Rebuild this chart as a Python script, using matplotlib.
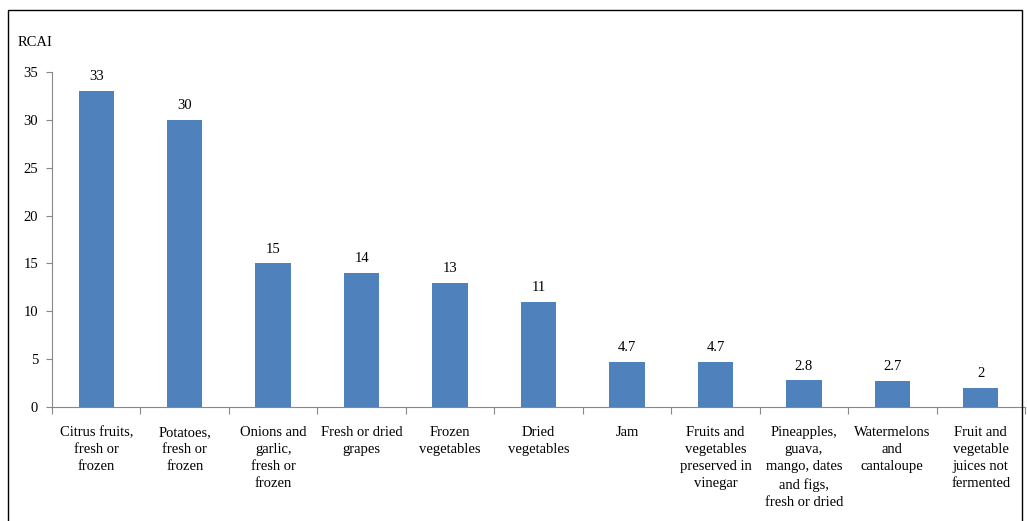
import numpy as np
import matplotlib.pyplot as plt
from matplotlib.patches import Rectangle

categories = ['Citrus fruits,\nfresh or\nfrozen', 'Potatoes,\nfresh or\nfrozen',
              'Onions and\ngarlic,\nfresh or\nfrozen', 'Fresh or dried\ngrapes',
              'Frozen\nvegetables', 'Dried\nvegetables', 'Jam',
              'Fruits and\nvegetables\npreserved in\nvinegar',
              'Pineapples,\nguava,\nmango, dates\nand figs,\nfresh or dried',
              'Watermelons\nand\ncantaloupe', 'Fruit and\nvegetable\njuices not\nfermented']
values = [33, 30, 15, 14, 13, 11, 4.7, 4.7, 2.8, 2.7, 2]
labels = ['33', '30', '15', '14', '13', '11', '4.7', '4.7', '2.8', '2.7', '2']

plt.rcParams['font.family'] = ['Liberation Serif', 'DejaVu Serif']
plt.rcParams['font.size'] = 10.5

fig = plt.figure(figsize=(10.27, 5.21), dpi=100)
fig.patches.append(Rectangle((8/1027, -0.05), (1022-8)/1027, 1.05 - 10/521,
                             transform=fig.transFigure, fill=False,
                             edgecolor='black', lw=1))
ax = fig.add_axes([52/1027, 1-407/521, (1025-52)/1027, (407-72)/521])

x = np.arange(len(values))
ax.bar(x, values, width=0.4, color='#4F81BD')
for xi, v, lab in zip(x, values, labels):
    ax.text(xi, v + 0.8, lab, ha='center', va='bottom', fontsize=10.5)

ax.set_xlim(-0.5, len(values) - 0.5)
ax.set_ylim(0, 35)
ax.set_yticks(range(0, 36, 5))
ax.set_xticks(np.arange(-0.5, len(values), 1))
ax.set_xticklabels([])
ax.set_xticks(x, minor=True)
ax.set_xticklabels(categories, minor=True, fontsize=10.5, linespacing=1.4, va='top')
ax.tick_params(axis='x', which='minor', length=0, pad=14)
ax.tick_params(axis='x', which='major', length=5, color='#888888', direction='out')
ax.tick_params(axis='y', length=4, color='#888888', labelsize=10.5, pad=6)

for s in ['top', 'right']:
    ax.spines[s].set_visible(False)
ax.spines['left'].set_color('#888888')
ax.spines['bottom'].set_color('#888888')

fig.text(18/1027, 1-42/521, 'RCAI', fontsize=10.5, va='center', ha='left')

fig.savefig('out.png', dpi=100)
